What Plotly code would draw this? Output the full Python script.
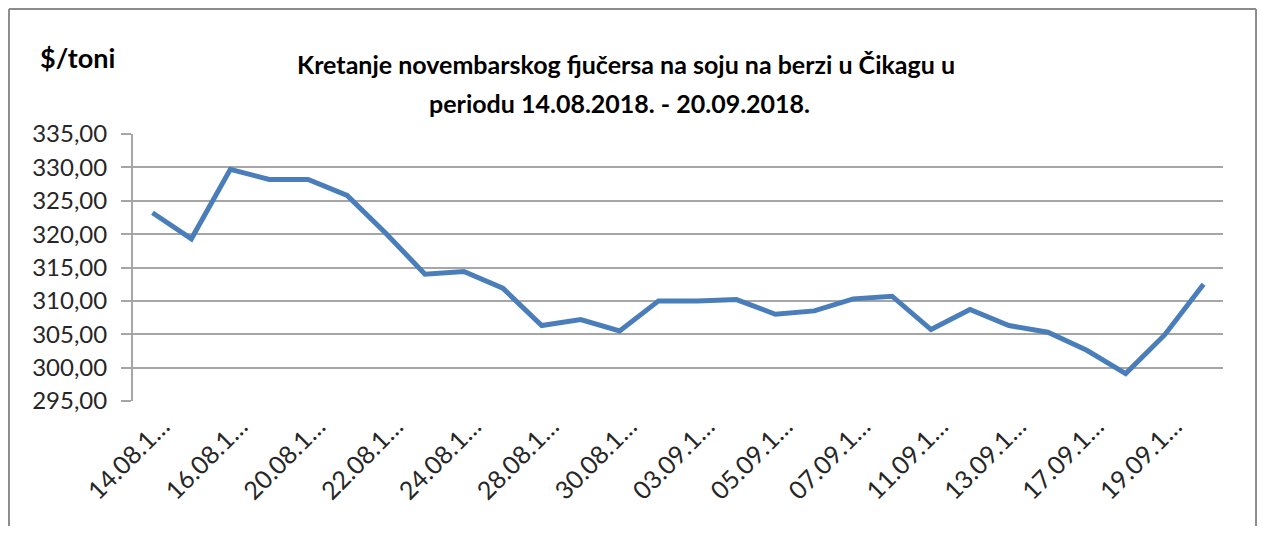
import plotly.graph_objects as go

dates = [
    "14.08.2018", "15.08.2018", "16.08.2018", "17.08.2018", "20.08.2018",
    "21.08.2018", "22.08.2018", "23.08.2018", "24.08.2018", "27.08.2018",
    "28.08.2018", "29.08.2018", "30.08.2018", "31.08.2018", "03.09.2018",
    "04.09.2018", "05.09.2018", "06.09.2018", "07.09.2018", "10.09.2018",
    "11.09.2018", "12.09.2018", "13.09.2018", "14.09.2018", "17.09.2018",
    "18.09.2018", "19.09.2018", "20.09.2018",
]
prices = [
    323.2, 319.3, 329.7, 328.2, 328.2, 325.8, 320.1, 314.0, 314.4, 311.9,
    306.3, 307.2, 305.5, 310.0, 310.0, 310.2, 308.0, 308.5, 310.3, 310.7,
    305.7, 308.7, 306.3, 305.3, 302.6, 299.1, 304.9, 312.5,
]
tick_dates = dates[::2]
tick_labels = [
    "14.08.1…", "16.08.1…", "20.08.1…", "22.08.1…", "24.08.1…", "28.08.1…",
    "30.08.1…", "03.09.1…", "05.09.1…", "07.09.1…", "11.09.1…", "13.09.1…",
    "17.09.1…", "19.09.1…",
]
y_ticks = [295, 300, 305, 310, 315, 320, 325, 330, 335]

title_line1 = "Kretanje novembarskog fjučersa na soju na berzi u Čikagu u"
title_line2 = "periodu 14.08.2018. - 20.09.2018."
unit_label = "$/toni"

FONT = "Lato, Liberation Sans, sans-serif"
GRID = "#a6a6a6"
FRAME = "#8c8c8c"

fig = go.Figure()
fig.add_trace(go.Scatter(
    x=dates, y=prices, mode="lines",
    line=dict(color="#4a7ebb", width=5),
    showlegend=False, hoverinfo="x+y",
))

# the page body adds an 8px offset; the figure is sized so the page does not overflow
fig.update_layout(
    width=1249, height=518,
    margin=dict(l=125, r=34, t=126, b=125, autoexpand=False),
    paper_bgcolor="white", plot_bgcolor="white",
    separators=",.",
    font=dict(family=FONT, color="#262626"),
    xaxis=dict(
        type="category", categoryorder="array", categoryarray=dates,
        range=[-0.5, len(dates) - 0.5], automargin=False,
        tickmode="array", tickvals=tick_dates, ticktext=tick_labels,
        tickangle=-45, tickfont=dict(size=25, family=FONT, color="#262626"),
        ticklabelshift=10, ticklabelstandoff=5,
        showgrid=False, showline=False, ticks="", zeroline=False,
    ),
    yaxis=dict(
        range=[295, 335], tickmode="array", tickvals=y_ticks, automargin=False,
        tickformat=".2f", tickfont=dict(size=24, family=FONT, color="#262626"),
        showgrid=True, gridcolor=GRID, gridwidth=2,
        showline=True, linecolor=GRID, linewidth=2,
        ticks="outside", ticklen=10, tickcolor=GRID, tickwidth=2,
        ticklabelstandoff=9, zeroline=False,
    ),
    annotations=[
        dict(text=unit_label, xref="paper", yref="paper", x=-0.0509, y=1.285,
             xanchor="center", yanchor="middle", showarrow=False,
             font=dict(size=27, family=FONT, color="#000000", weight="bold")),
        dict(text=title_line1, xref="paper", yref="paper", x=0.4523, y=1.2622,
             xanchor="center", yanchor="middle", showarrow=False,
             font=dict(size=25, family=FONT, color="#000000", weight="bold")),
        dict(text=title_line2, xref="paper", yref="paper", x=0.4463, y=1.116,
             xanchor="center", yanchor="middle", showarrow=False,
             font=dict(size=25, family=FONT, color="#000000", weight="bold")),
    ],
    shapes=[
        dict(type="line", xref="paper", yref="paper",
             x0=-0.1138, x1=1.0303, y0=1.468, y1=1.468,
             line=dict(color=FRAME, width=2)),
        dict(type="line", xref="paper", yref="paper",
             x0=-0.1138, x1=-0.1138, y0=1.468, y1=-0.5,
             line=dict(color=FRAME, width=2)),
        dict(type="line", xref="paper", yref="paper",
             x0=1.0303, x1=1.0303, y0=1.468, y1=-0.5,
             line=dict(color=FRAME, width=2)),
    ],
)

fig.write_html("out.html")
